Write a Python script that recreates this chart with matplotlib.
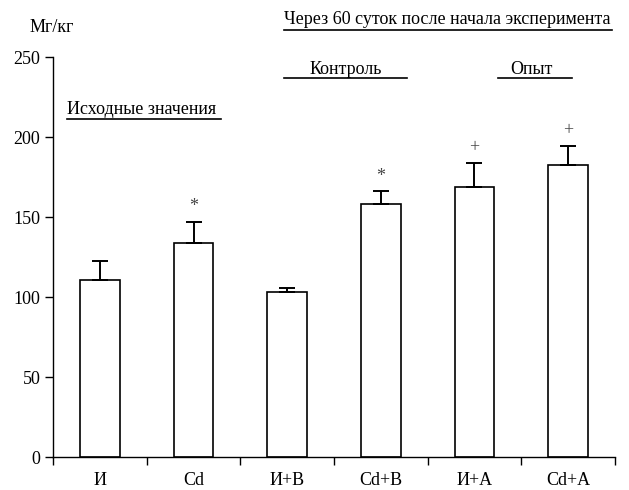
import matplotlib
matplotlib.use("Agg")
import matplotlib.pyplot as plt
from matplotlib.lines import Line2D
import numpy as np

plt.rcParams['font.family'] = ['Liberation Serif', 'DejaVu Serif']

# data
groups = ['И', 'Cd', 'И+В', 'Cd+В', 'И+А', 'Cd+А']
values = [110.5, 134.0, 103.0, 158.0, 168.5, 182.5]
errors = [11.8, 12.8, 2.5, 8.0, 15.2, 12.0]
marks = ['', '*', '', '*', '+', '+']

W, H = 629, 490
fig = plt.figure(figsize=(W / 100, H / 100), dpi=100)
# axes: x from 53 to 615 px, y from 57 (250) to 457 (0)
ax = fig.add_axes([53 / W, 1 - 457 / H, (615 - 53) / W, 400 / H])

x = np.arange(len(groups))
ax.bar(x, values, width=0.42, color='white', edgecolor='black', linewidth=1.2, zorder=2)
ax.errorbar(x, values, yerr=[np.zeros(len(errors)), errors], fmt='none',
            ecolor='black', elinewidth=1.4, capsize=5.5, capthick=1.4, zorder=3)

for xi, v, e, m in zip(x, values, errors, marks):
    if m:
        ax.annotate(m, (xi, v + e), xytext=(0, 11), textcoords='offset points',
                    ha='center', va='center', fontsize=13, color='#444444')

ax.set_xlim(-0.5, len(groups) - 0.5)
ax.set_ylim(0, 250)
ax.set_yticks([0, 50, 100, 150, 200, 250])
ax.set_xticks(np.arange(len(groups) + 1) - 0.5)
ax.set_xticklabels([])
ax.set_xticks(x, minor=True)
ax.set_xticklabels(groups, minor=True)
ax.tick_params(axis='x', which='minor', length=0, pad=11, labelsize=13)
ax.tick_params(axis='x', which='major', length=6, width=1, direction='out')
ax.tick_params(axis='y', length=6, width=1, direction='out', labelsize=13, pad=3)
ax.spines['top'].set_visible(False)
ax.spines['right'].set_visible(False)
ax.spines['left'].set_linewidth(1)
ax.spines['bottom'].set_linewidth(1)


def ftext(px, py, s, **kw):
    fig.text(px / W, 1 - py / H, s, fontsize=13, va='center', **kw)


def fline(x0, x1, py):
    fig.add_artist(Line2D([x0 / W, x1 / W], [1 - py / H, 1 - py / H],
                          color='black', linewidth=1.2, transform=fig.transFigure))


ftext(30, 27, 'Мг/кг')
ftext(284, 20, 'Через 60 суток после начала эксперимента')
fline(284, 612, 30)
ftext(310, 70, 'Контроль')
fline(284, 407, 78)
ftext(510, 70, 'Опыт')
fline(498, 572, 78)
ftext(67, 110, 'Исходные значения')
fline(67, 221, 119)

fig.savefig('out.png', dpi=100)
